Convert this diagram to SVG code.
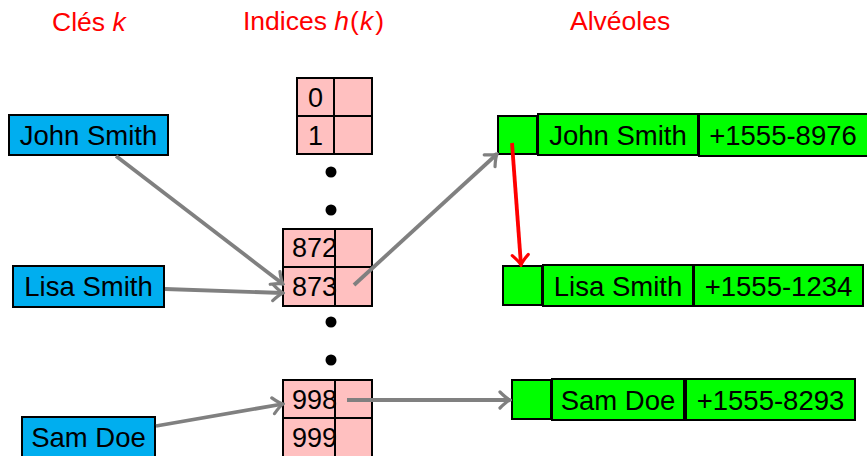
<svg xmlns="http://www.w3.org/2000/svg" width="867" height="456" viewBox="0 0 867 456">
<defs>
<style>
.t{font-family:"Liberation Sans",Arial,sans-serif;fill:#000}
.title{font-family:"Liberation Sans",Arial,sans-serif;font-size:26.5px;fill:#ff0000}
.key{fill:#00aeef;stroke:#000;stroke-width:2}
.idx{fill:#ffc0c0;stroke:#000;stroke-width:2}
.slot{fill:#00ff00;stroke:#000;stroke-width:2}
.big{font-size:27.5px;text-anchor:middle}
.num{font-size:27px}
.edge{fill:none;stroke:#808080;stroke-width:3.8}
.red{fill:none;stroke:#ff0000;stroke-width:3.8}
</style>
<marker id="ag" markerUnits="userSpaceOnUse" viewBox="-13 -11 15 22" refX="0" refY="0" markerWidth="15" markerHeight="22" orient="auto">
<path d="M-10,-8 Q-3.5,-1.5 0,0 Q-3.5,1.5 -10,8" fill="none" stroke="#808080" stroke-width="3.2" stroke-linecap="round"/>
</marker>
<marker id="ar" markerUnits="userSpaceOnUse" viewBox="-13 -11 15 22" refX="0" refY="0" markerWidth="15" markerHeight="22" orient="auto">
<path d="M-10,-8 Q-3.5,-1.5 0,0 Q-3.5,1.5 -10,8" fill="none" stroke="#ff0000" stroke-width="3.2" stroke-linecap="round"/>
</marker>
</defs>
<rect width="867" height="456" fill="#fff"/>
<g id="titles">
<text class="title" x="52" y="31">Clés <tspan font-style="italic">k</tspan></text>
<text class="title" x="243" y="30">Indices <tspan font-style="italic">h</tspan><tspan dx="1">(</tspan><tspan dx="1" font-style="italic">k</tspan><tspan dx="2">)</tspan></text>
<text class="title" x="570" y="30">Alvéoles</text>
</g>
<g id="key-john">
<rect class="key" x="9" y="115" width="159" height="40"/>
<text class="t big" x="88.5" y="145">John Smith</text>
</g>
<g id="key-lisa">
<rect class="key" x="13" y="266" width="151" height="41"/>
<text class="t big" x="88.5" y="296">Lisa Smith</text>
</g>
<g id="key-sam">
<rect class="key" x="22" y="417" width="133" height="41"/>
<text class="t big" x="88.5" y="447">Sam Doe</text>
</g>
<g id="idx-0-1">
<rect class="idx" x="297" y="78" width="37" height="38"/>
<rect class="idx" x="334" y="78" width="38" height="38"/>
<rect class="idx" x="297" y="116" width="37" height="38"/>
<rect class="idx" x="334" y="116" width="38" height="38"/>
<text class="t num" x="315.5" y="107" text-anchor="middle">0</text>
<text class="t num" x="315.5" y="145" text-anchor="middle">1</text>
</g>
<g id="dots1">
<circle cx="331" cy="172" r="5.5" fill="#000"/>
<circle cx="331" cy="210" r="5.5" fill="#000"/>
</g>
<g id="idx-872-873">
<rect class="idx" x="283" y="229" width="52" height="38"/>
<rect class="idx" x="335" y="229" width="37" height="38"/>
<rect class="idx" x="283" y="267" width="52" height="39"/>
<rect class="idx" x="335" y="267" width="37" height="39"/>
<text class="t num" x="292" y="257">872</text>
<text class="t num" x="292" y="296">873</text>
</g>
<g id="dots2">
<circle cx="331" cy="322" r="5.5" fill="#000"/>
<circle cx="331" cy="360" r="5.5" fill="#000"/>
</g>
<g id="idx-998-999">
<rect class="idx" x="283" y="380" width="52" height="38"/>
<rect class="idx" x="335" y="380" width="37" height="38"/>
<rect class="idx" x="283" y="418" width="52" height="39"/>
<rect class="idx" x="335" y="418" width="37" height="39"/>
<text class="t num" x="292" y="409">998</text>
<text class="t num" x="292" y="447">999</text>
</g>
<g id="slot-john">
<rect class="slot" x="498" y="116" width="39" height="38"/>
<rect class="slot" x="538" y="114" width="160" height="41"/>
<rect class="slot" x="699" y="114" width="170" height="42"/>
<text class="t big" x="618" y="145">John Smith</text>
<text class="t big" x="783" y="145">+1555-8976</text>
</g>
<g id="slot-lisa">
<rect class="slot" x="503" y="266" width="39" height="39"/>
<rect class="slot" x="543" y="265" width="150" height="41"/>
<rect class="slot" x="694" y="265" width="169" height="41"/>
<text class="t big" x="618" y="296">Lisa Smith</text>
<text class="t big" x="778.5" y="296">+1555-1234</text>
</g>
<g id="slot-sam">
<rect class="slot" x="512" y="380" width="39" height="39"/>
<rect class="slot" x="552" y="379" width="132" height="41"/>
<rect class="slot" x="686" y="379" width="169" height="41"/>
<text class="t big" x="618" y="410">Sam Doe</text>
<text class="t big" x="770.5" y="410">+1555-8293</text>
</g>
<g id="connectors">
<line class="edge" x1="116" y1="156" x2="283" y2="284" marker-end="url(#ag)"/>
<line class="edge" x1="165" y1="289" x2="283" y2="293" marker-end="url(#ag)"/>
<line class="edge" x1="156" y1="426" x2="283" y2="404" marker-end="url(#ag)"/>
<line class="edge" x1="354" y1="285" x2="497" y2="154" marker-end="url(#ag)"/>
<line class="edge" x1="347" y1="400" x2="510" y2="400" marker-end="url(#ag)"/>
<line class="red" x1="512" y1="143" x2="521" y2="265" marker-end="url(#ar)"/>
</g>
</svg>
